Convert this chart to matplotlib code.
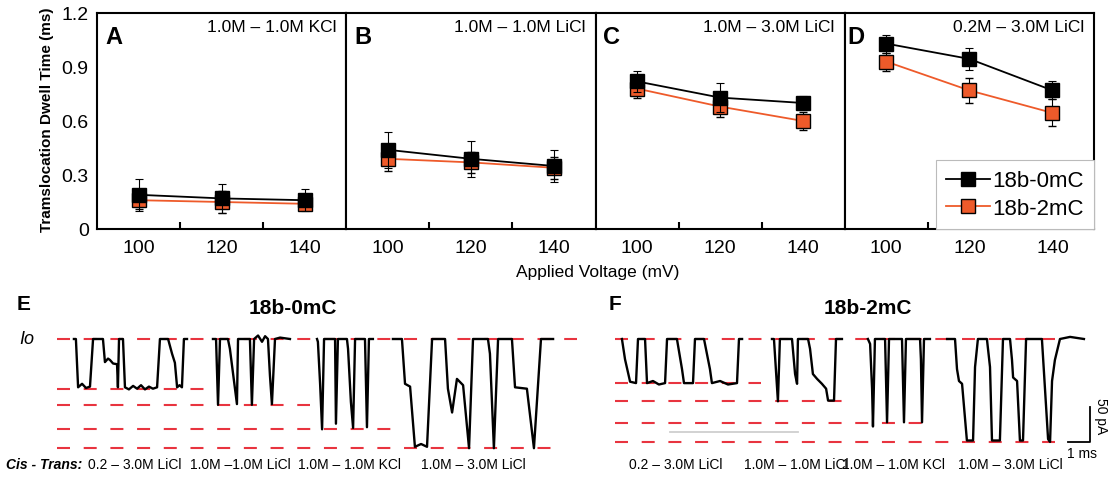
import matplotlib
matplotlib.use("Agg")
import matplotlib.pyplot as plt
from matplotlib import font_manager
from matplotlib.lines import Line2D

names = {f.name for f in font_manager.fontManager.ttflist}
NARROW = 'Liberation Sans Narrow' if 'Liberation Sans Narrow' in names else 'Liberation Sans'
plt.rcParams['font.family'] = ['Liberation Sans', 'DejaVu Sans']
plt.rcParams['lines.scale_dashes'] = False

# ---------------- data: dwell times (top row) ----------------
voltages = [100, 120, 140]
panel_letters = ['A', 'B', 'C', 'D']
conditions = ['1.0M – 1.0M KCl', '1.0M – 1.0M LiCl', '1.0M – 3.0M LiCl', '0.2M – 3.0M LiCl']
series_names = ['18b-0mC', '18b-2mC']
dwell_0mC = [[0.19, 0.17, 0.16], [0.44, 0.39, 0.35], [0.82, 0.73, 0.70], [1.03, 0.945, 0.77]]
err_0mC = [[0.09, 0.08, 0.06], [0.10, 0.10, 0.09], [0.06, 0.08, 0.04], [0.05, 0.06, 0.05]]
dwell_2mC = [[0.16, 0.15, 0.14], [0.39, 0.37, 0.34], [0.78, 0.68, 0.60], [0.93, 0.77, 0.645]]
err_2mC = [[0.05, 0.06, 0.03], [0.07, 0.06, 0.06], [0.05, 0.06, 0.05], [0.05, 0.07, 0.075]]
yticks = [0, 0.3, 0.6, 0.9, 1.2]
ytick_labels = ['0', '0.3', '0.6', '0.9', '1.2']

# ---------------- data: current traces (bottom row), time in ms, current in pA rel. to Io ----------------
E_trace_t = [
    [3.36, 3.45, 3.55, 3.73, 3.91, 4.09, 4.23, 4.68, 4.77, 4.91, 5.00, 5.14, 5.32, 5.36, 5.41, 5.59, 5.68,
     5.86, 6.05, 6.23, 6.41, 6.59, 6.77, 6.95, 7.14, 7.27, 7.64, 7.82, 7.95, 8.05, 8.16, 8.27, 8.36, 8.50],
    [9.68, 9.82, 9.91, 10.00, 10.36, 10.45, 10.77, 10.82, 11.36, 11.45, 11.55, 11.73, 11.91, 12.05, 12.18,
     12.27, 12.36, 12.50, 12.73, 13.18],
    [14.41, 14.45, 14.55, 14.64, 14.73, 15.23, 15.27, 15.36, 15.77, 15.82, 15.95, 16.05, 16.14, 16.59,
     16.68, 16.77, 16.95],
    [17.86, 18.27, 18.41, 18.64, 18.86, 19.14, 19.41, 19.64, 20.23, 20.36, 20.55, 20.77, 21.05, 21.32,
     21.50, 22.18, 22.27, 22.45, 22.64, 23.27, 23.41, 23.95, 24.27, 24.59, 25.14],
]
E_trace_i = [
    [0, 0, -69, -64, -70, -68, 0, 0, -33, -28, -30, -35, -36, -69, 0, 0, -69,
     -72, -67, -71, -66, -72, -68, -71, -69, 0, 0, -21, -34, -69, -66, -69, 0, 0],
    [0, 0, -94, 0, 0, -14, -93, 0, 0, -94, 0, 5, -4, 4, 0, -52, -93, 0, 2, 0],
    [0, -4, -64, -129, 0, 0, -121, 0, 0, -14, -90, -127, 0, 0, -126, 0, 0],
    [0, 0, -64, -68, -154, -150, -154, 0, 0, -71, -105, -57, -66, -156, 0, 0, -21, -156, 0, 0,
     -69, -71, -156, 0, 0],
]
F_trace_t = [
    [28.27, 28.41, 28.64, 28.91, 29.00, 29.32, 29.41, 29.68, 29.95, 30.23, 30.32, 30.77, 31.00, 31.09,
     31.50, 31.59, 32.00, 32.27, 32.36, 32.73, 33.09, 33.50, 33.59, 33.73],
    [35.09, 35.18, 35.36, 35.45, 36.00, 36.14, 36.23, 36.27, 36.73, 36.82, 36.95, 37.14, 37.36, 37.55,
     37.64, 37.91, 38.00, 38.27],
    [39.45, 39.55, 39.64, 39.68, 39.77, 40.23, 40.32, 40.41, 41.00, 41.09, 41.18, 41.82, 41.86, 41.91,
     42.00, 42.27],
    [43.05, 43.41, 43.50, 43.59, 43.73, 43.95, 44.23, 44.32, 44.45, 44.86, 45.00, 45.09, 45.45, 45.59,
     45.91, 46.00, 46.05, 46.23, 46.36, 46.50, 46.64, 47.36, 47.64, 47.73, 47.82, 47.95, 48.18, 48.64, 49.27],
]
F_trace_i = [
    [0, -29, -61, -63, 0, 0, -63, -60, -65, -63, 0, 0, -43, -63, -63, 0, 0, -43, -63, -60, -65, -63, 0, 0],
    [0, 0, -89, 0, 0, -50, -64, 0, 0, -14, -50, -57, -64, -71, -88, -88, 0, 0],
    [0, -7, -71, -125, 0, 0, -119, 0, 0, -119, 0, 0, -29, -119, 0, 0],
    [0, 0, -43, -60, -64, -145, -145, -40, 0, 0, -40, -145, -145, 0, 0, -30, -55, -60, -145, -145, 0, 0,
     -143, -147, -60, -30, 0, 3, 0],
]
E_levels = [0, -71, -94, -129, -156]
E_level_start = 2.59
E_level_end = [26.24, 9.25, 14.10, 17.75, 25.03]
F_levels = [0, -63, -88, -120, -147]
F_level_start = 27.95
F_level_end = [47.95, 34.61, 38.25, 41.90, 47.95]
E_conditions = ['0.2 – 3.0M LiCl', '1.0M –1.0M LiCl', '1.0M – 1.0M KCl', '1.0M – 3.0M LiCl']
F_conditions = ['0.2 – 3.0M LiCl', '1.0M – 1.0M LiCl', '1.0M – 1.0M KCl', '1.0M – 3.0M LiCl']
trace_titles = ['18b-0mC', '18b-2mC']
scale_ms = 1
scale_pA = 50

# ---------------- figure ----------------
W, H = 1117, 481
fig = plt.figure(figsize=(W / 100, H / 100), dpi=100)

def fx(x):
    return x / W

def fy(y):
    return 1 - y / H

ORANGE = '#EE5A2A'
RED = '#E8343F'

left0, right0, top0, bot0 = 97, 1094, 14, 230
pw = (right0 - left0) / 4
for k in range(4):
    ax = fig.add_axes([fx(left0 + k * pw), fy(bot0), pw / W, (bot0 - top0) / H])
    ax.set_xlim(90, 150)
    ax.set_ylim(0, 1.2)
    ax.errorbar(voltages, dwell_2mC[k], yerr=err_2mC[k], fmt='s-', color=ORANGE, mfc=ORANGE,
                mec='black', mew=1.0, ms=9.5, lw=1.3, ecolor='black', elinewidth=0.8,
                capsize=3, capthick=0.8, zorder=3)
    ax.errorbar(voltages, dwell_0mC[k], yerr=err_0mC[k], fmt='s-', color='black', mfc='black',
                mec='black', ms=9.5, lw=1.3, ecolor='black', elinewidth=0.8,
                capsize=3, capthick=0.8, zorder=4)
    ax.set_xticks(voltages)
    ax.set_xticks([110, 130], minor=True)
    ax.tick_params(axis='x', which='major', length=0, pad=7, labelsize=14)
    ax.tick_params(axis='x', which='minor', direction='in', length=5, width=1.5)
    for lab in ax.get_xticklabels():
        lab.set_family([NARROW, 'Liberation Sans'])
    ax.set_yticks(yticks)
    if k == 0:
        ax.set_yticklabels(ytick_labels)
        ax.tick_params(axis='y', length=0, pad=6, labelsize=14)
        for lab in ax.get_yticklabels():
            lab.set_family([NARROW, 'Liberation Sans'])
    else:
        ax.tick_params(axis='y', length=0, labelleft=False)
    for s in ax.spines.values():
        s.set_linewidth(1.5)
    inset_letter = 8 if k < 3 else 3
    ax.text(inset_letter / pw, 1 - 23 / 216, panel_letters[k], transform=ax.transAxes,
            fontsize=17, fontweight='bold', ha='left', va='center')
    ax.text(1 - 10 / pw, 1 - 14 / 216, conditions[k], transform=ax.transAxes,
            fontsize=12.5, ha='right', va='center')
    if k == 3:
        handles = [Line2D([], [], color='black', marker='s', ms=9.5, mfc='black', mec='black', lw=1.3),
                   Line2D([], [], color=ORANGE, marker='s', ms=9.5, mfc=ORANGE, mec='black', mew=1.0, lw=1.3)]
        leg = ax.legend(handles, series_names, loc='lower right', bbox_to_anchor=(1, 0),
                        borderaxespad=0, fontsize=16, frameon=True, fancybox=False,
                        edgecolor='#bbbbbb', framealpha=1, handlelength=2.0, handletextpad=0.1,
                        borderpad=0.45, labelspacing=0.3)
        leg.get_frame().set_linewidth(0.8)

fig.text(fx(47), fy(120), 'Tramslocation Dwell Time (ms)', rotation=90, fontsize=11,
         fontweight='bold', ha='center', va='center')
fig.text(fx(598), fy(272), 'Applied Voltage (mV)', fontsize=12.5, ha='center', va='center')

# ---------------- bottom traces ----------------
axb = fig.add_axes([0, 0, 1, (H - 290) / H])
ms_per_px = scale_ms / 22.0
pA_per_px = scale_pA / 35.0
axb.set_xlim(0, W * ms_per_px)
axb.set_ylim(-(H - 340) * pA_per_px, (340 - 290) * pA_per_px)
axb.axis('off')

dash = (0, (9.36, 9.86))
for lev, end in zip(E_levels, E_level_end):
    axb.plot([E_level_start, end], [lev, lev], color=RED, lw=1.5, ls=dash, zorder=1)
for lev, end in zip(F_levels, F_level_end):
    axb.plot([F_level_start, end], [lev, lev], color=RED, lw=1.5, ls=dash, zorder=1)
axb.plot([30.45, 36.27], [-133, -133], color='#cfcfcf', lw=1.3, zorder=1)

for t, i in zip(E_trace_t + F_trace_t, E_trace_i + F_trace_i):
    axb.plot(t, i, color='black', lw=1.7, zorder=3, solid_joinstyle='round')

# scale bar
cx, cy = 49.55, -147
axb.plot([cx - scale_ms, cx, cx], [cy, cy, cy + scale_pA], color='black', lw=1.3)
fig.text(fx(1101), fy(416), f'{scale_pA} pA', rotation=-90, fontsize=10, ha='center', va='center')
fig.text(fx(1082), fy(454), f'{scale_ms} ms', fontsize=10, ha='center', va='center')

# texts
fig.text(fx(17), fy(305), 'E', fontsize=15, fontweight='bold', ha='left', va='center')
fig.text(fx(609), fy(305), 'F', fontsize=15, fontweight='bold', ha='left', va='center')
fig.text(fx(293), fy(309), trace_titles[0], fontsize=15, fontweight='bold', ha='center', va='center')
fig.text(fx(868), fy(309), trace_titles[1], fontsize=15, fontweight='bold', ha='center', va='center')
fig.text(fx(19), fy(340), 'Io', fontsize=13, style='italic', ha='left', va='center')

fig.text(fx(6), fy(465), 'Cis - Trans:', fontsize=10, fontweight='bold', style='italic',
         ha='left', va='center')
fig.text(fx(88), fy(465), E_conditions[0], fontsize=10, ha='left', va='center')
for cxp, lab in zip([240, 350, 473], E_conditions[1:]):
    fig.text(fx(cxp), fy(465), lab, fontsize=10, ha='center', va='center')
for cxp, lab in zip([676, 796, 893, 1010], F_conditions):
    fig.text(fx(cxp), fy(465), lab, fontsize=10, ha='center', va='center')

fig.savefig('out.png', dpi=100)
